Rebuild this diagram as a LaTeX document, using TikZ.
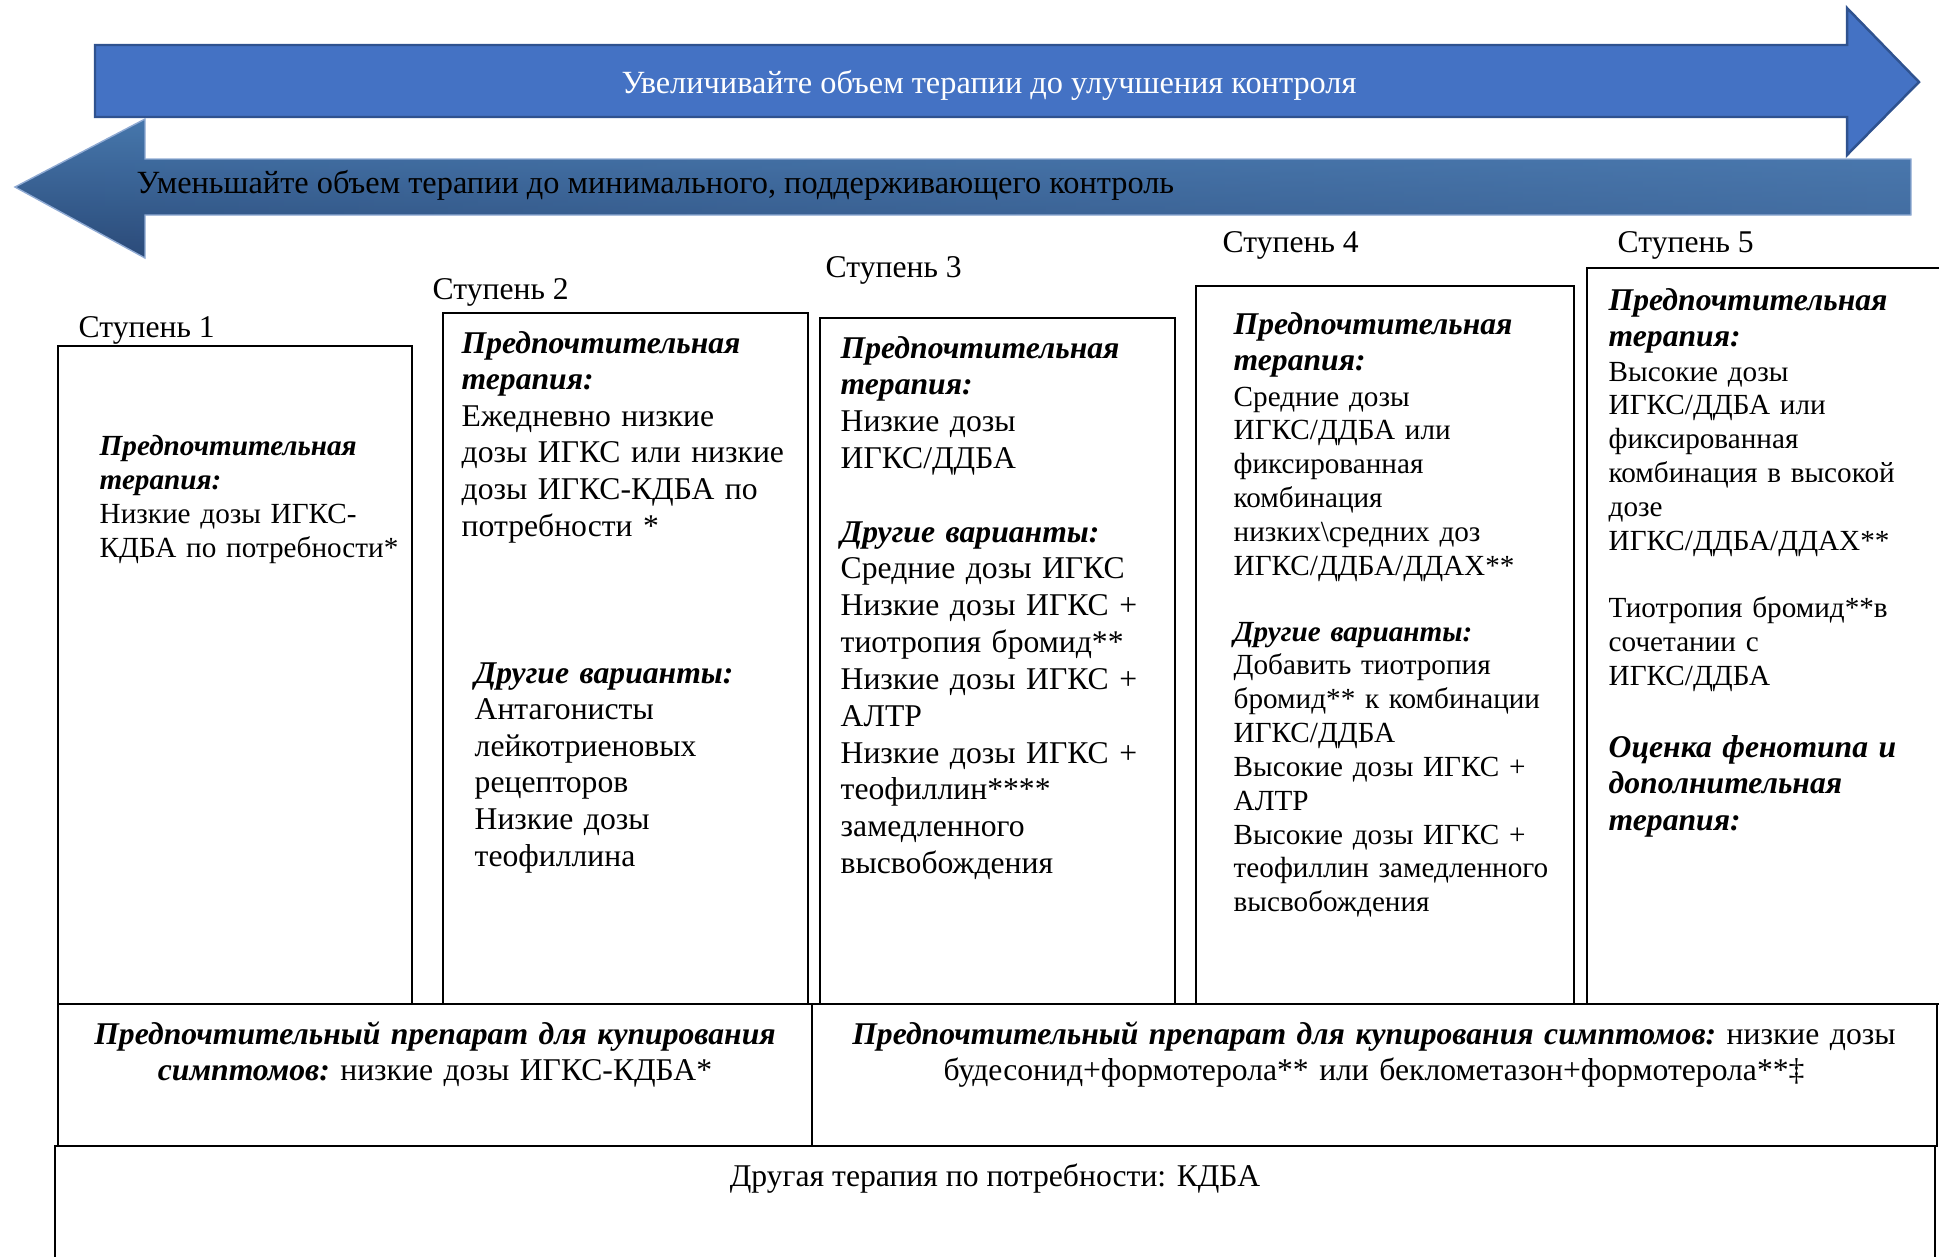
\documentclass[tikz,border=0pt]{standalone}
\usepackage{fontspec}
\setmainfont{Liberation Serif}
\usetikzlibrary{fadings}

\definecolor{upfill}{HTML}{4472C4}
\definecolor{upedge}{HTML}{2F528F}
\definecolor{downdark}{HTML}{2A4977}
\definecolor{downlight}{HTML}{4677AC}
\definecolor{downglow}{HTML}{5585BD}
\definecolor{downedge}{HTML}{8FAAD3}

\newcommand{\hdr}[1]{\textbf{\textit{#1}}}
\newcommand{\fsz}[2]{\fontsize{#1}{#2}\selectfont}

\tikzfading[name=fadeleft, left color=transparent!100, right color=transparent!0]

\tikzstyle{frame} = [draw=black, line width=0.55pt]
\tikzstyle{steplabel} = [anchor=base west, inner sep=0pt, font=\fsz{9pt}{10.5pt}]
\tikzstyle{bodytext} = [anchor=base west, inner sep=0pt, text width=4cm, align=left, font=\fsz{9pt}{10.47pt}]
\tikzstyle{bodysmall} = [anchor=base west, inner sep=0pt, text width=4cm, align=left, font=\fsz{8.3pt}{9.62pt}]
\tikzstyle{rowtext} = [anchor=base, inner sep=0pt, align=center, font=\fsz{9pt}{10.24pt}]
\tikzstyle{arrowtext} = [inner sep=0pt, font=\fsz{9.2pt}{10.5pt}]

\begin{document}
\begin{tikzpicture}[x=0.01cm, y=-0.01cm]
\useasboundingbox (0,0) rectangle (1939,1256);

%% ARROWS

\draw [upedge, fill=upfill, line width=0.7pt] (95,45) -- (1847,45) -- (1847,8) -- (1919,82) -- (1847,155) -- (1847,117) -- (95,117) -- cycle;
\shade [top color=downlight, bottom color=downdark] (1911,159) -- (145,159) -- (145,119) -- (15,187) -- (145,258) -- (145,215) -- (1911,215) -- cycle;
\fill [downglow, path fading=fadeleft, fill opacity=0.5] (1911,159) -- (145,159) -- (145,119) -- (15,187) -- (145,258) -- (145,215) -- (1911,215) -- cycle;
\draw [downedge, line width=0.4pt] (1911,159) -- (145,159) -- (145,119) -- (15,187) -- (145,258) -- (145,215) -- (1911,215) -- cycle;

\node (up) [arrowtext, anchor=base, text=white] at (989,93) {Увеличивайте объем терапии до улучшения контроля};
\node (down) [arrowtext, anchor=base west] at (136,193) {Уменьшайте объем терапии до минимального, поддерживающего контроль};

%% FRAMES

\draw [frame] (58,346) rectangle (412,1004);
\draw [frame] (443,313) rectangle (808,1004);
\draw [frame] (820,318) rectangle (1175,1004);
\draw [frame] (1196,286) rectangle (1574,1004);
\draw [frame] (1587,268) rectangle (1970,1004);
\draw [frame] (58,1004) rectangle (812,1146);
\draw [frame] (812,1004) rectangle (1937,1146);
\draw [frame] (55,1146) rectangle (1935,1290);

%% NODES

\node (s1) [steplabel] at (78,337) {Ступень 1};
\node (s2) [steplabel] at (432,299) {Ступень 2};
\node (s3) [steplabel] at (825,277) {Ступень 3};
\node (s4) [steplabel] at (1222,252) {Ступень 4};
\node (s5) [steplabel] at (1617,252) {Ступень 5};

\node (c1) [bodysmall, font=\fsz{8.3pt}{9.73pt}] at (99,455) {\hdr{Предпочтительная\\терапия:}\\Низкие дозы ИГКС-\\КДБА по потребности*};

\node (c2a) [bodytext, font=\fsz{9pt}{10.41pt}] at (461,353) {\hdr{Предпочтительная\\терапия:}\\Ежедневно низкие\\дозы ИГКС или низкие\\дозы ИГКС-КДБА по\\потребности *};
\node (c2b) [bodytext, font=\fsz{9pt}{10.41pt}] at (474,683) {\hdr{Другие варианты:}\\Антагонисты\\лейкотриеновых\\рецепторов\\Низкие дозы\\теофиллина};

\node (c3) [bodytext] at (840,358) {\hdr{Предпочтительная\\терапия:}\\Низкие дозы\\ИГКС/ДДБА\\[\baselineskip]\hdr{Другие варианты:}\\Средние дозы ИГКС\\Низкие дозы ИГКС +\\тиотропия бромид**\\Низкие дозы ИГКС +\\АЛТР\\Низкие дозы ИГКС +\\теофиллин****\\замедленного\\высвобождения};

\node (c4a) [bodytext, font=\fsz{9pt}{10.24pt}] at (1233,334) {\hdr{Предпочтительная\\терапия:}};
\node (c4b) [bodysmall] at (1233,406) {Средние дозы\\ИГКС/ДДБА или\\фиксированная\\комбинация\\низких\textbackslash средних доз\\ИГКС/ДДБА/ДДАХ**};
\node (c4c) [bodysmall] at (1233,641) {\hdr{Другие варианты:}\\Добавить тиотропия\\бромид** к комбинации\\ИГКС/ДДБА\\Высокие дозы ИГКС +\\АЛТР\\Высокие дозы ИГКС +\\теофиллин замедленного\\высвобождения};

\node (c5a) [bodytext, font=\fsz{9pt}{10.24pt}] at (1608,310) {\hdr{Предпочтительная\\терапия:}};
\node (c5b) [bodysmall] at (1608,381) {Высокие дозы\\ИГКС/ДДБА или\\фиксированная\\комбинация в высокой\\дозе\\ИГКС/ДДБА/ДДАХ**\\[\baselineskip]Тиотропия бромид**в\\сочетании с\\ИГКС/ДДБА};
\node (c5c) [bodytext] at (1608,757) {\hdr{Оценка фенотипа и\\дополнительная\\терапия:}};

\node (r1) [rowtext, text width=7.4cm] at (435,1044) {\hdr{Предпочтительный препарат для купирования\\симптомов:}~низкие дозы ИГКС-КДБА*};
\node (r2) [rowtext, text width=11cm] at (1374,1044) {\hdr{Предпочтительный препарат для купирования симптомов:}~низкие дозы\\будесонид+формотерола** или беклометазон+формотерола**‡};
\node (r3) [rowtext] at (995,1186) {Другая терапия по потребности: КДБА};

\end{tikzpicture}
\end{document}
